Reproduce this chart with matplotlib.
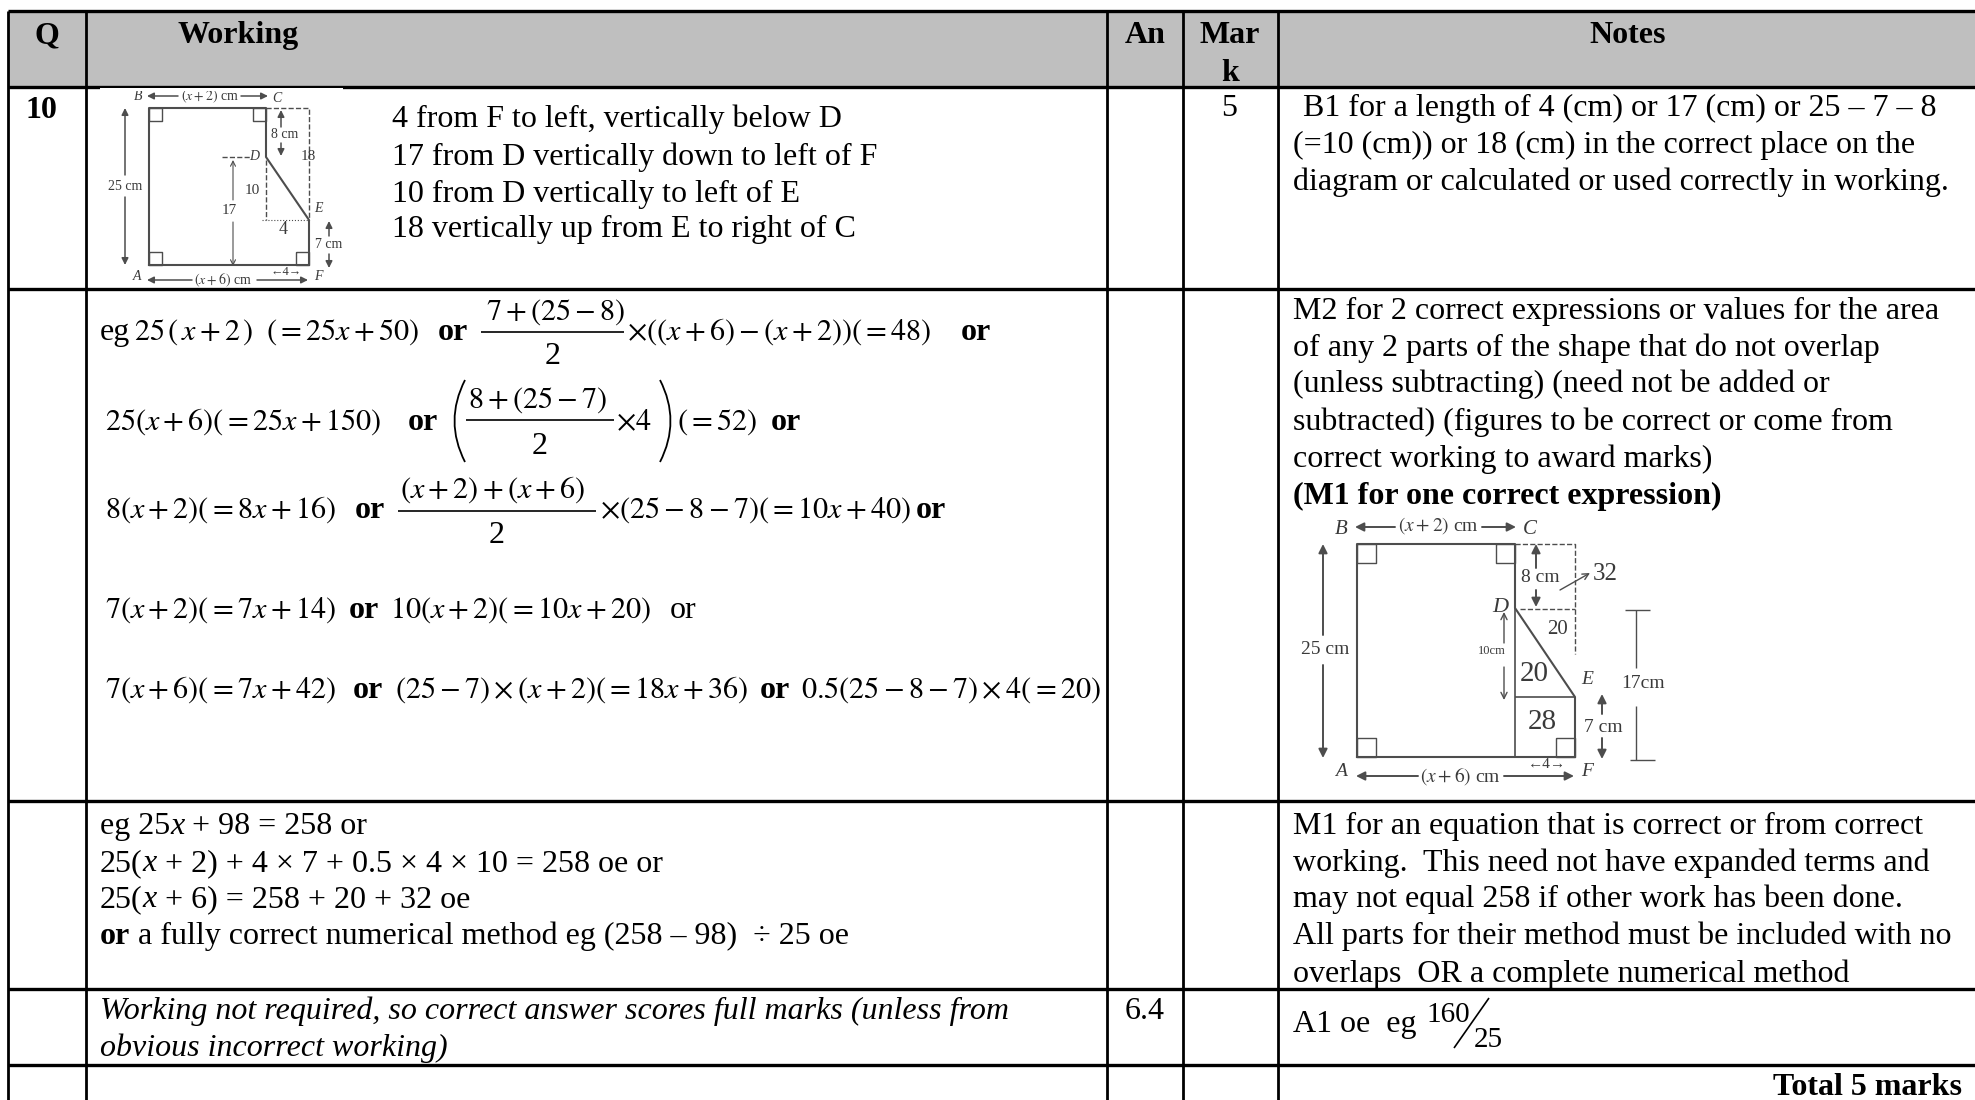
import matplotlib
matplotlib.use("Agg")
import matplotlib.pyplot as plt
from matplotlib.path import Path
from matplotlib.patches import PathPatch

plt.rcParams["font.family"] = ["Liberation Serif", "DejaVu Serif"]
plt.rcParams["mathtext.fontset"] = "stix"

# table grid, in picture pixels
COL_X = [8, 86, 1107, 1183, 1278]
ROW_Y = [11, 87, 289, 801, 989, 1065]
PAGE_W, PAGE_H = 1975, 1100
HEADER_GREY = "#bfbfbf"
DRAW_GREY = "#4d4d4d"
FS = 23
FS_MATH = 21.7

HEADERS = [("Q", 47, "center"), ("Working", 178, "left"), ("An", 1145, "center"),
           ("Mar", 1230, "center"), ("Notes", 1628, "center")]

WORK_LINES = ["4 from F to left, vertically below D",
              "17 from D vertically down to left of F",
              "10 from D vertically to left of E",
              "18 vertically up from E to right of C"]
WORK_Y = [127, 165, 202, 237]

NOTES_1 = ["(=10 (cm)) or 18 (cm) in the correct place on the",
           "diagram or calculated or used correctly in working."]
NOTES_1_Y = [153, 190]

NOTES_2 = ["M2 for 2 correct expressions or values for the area",
           "of any 2 parts of the shape that do not overlap",
           "(unless subtracting) (need not be added or",
           "subtracted) (figures to be correct or come from",
           "correct working to award marks)"]
NOTES_2_Y = [319, 356, 392, 430, 467]

NOTES_3 = ["M1 for an equation that is correct or from correct",
           "working.  This need not have expanded terms and",
           "may not equal 258 if other work has been done.",
           "All parts for their method must be included with no",
           "overlaps  OR a complete numerical method"]
NOTES_3_Y = [834, 871, 907, 944, 982]

# (x, baseline, text, bold)
MATH_BITS = [
    (100, 340, "eg", False), (134, 340, r"$25\,(\,x+2\,)$", False),
    (266, 340, r"$(=25x+50)$", False), (438, 340, "or", True),
    (486, 320, r"$7+(25-8)$", False), (545, 364, "2", False),
    (627, 340, r"$\times((x+6)-(x+2))(=48)$", False), (961, 340, "or", True),
    (105, 430, r"$25(x+6)(=25x+150)$", False), (408, 430, "or", True),
    (468, 408, r"$8+(25-7)$", False), (532, 454, "2", False),
    (616, 430, r"$\times 4$", False), (677, 430, r"$(=52)$", False), (771, 430, "or", True),
    (105, 518, r"$8(x+2)(=8x+16)$", False), (355, 518, "or", True),
    (400, 498, r"$(x+2)+(x+6)$", False), (489, 543, "2", False),
    (600, 518, r"$\times(25-8-7)(=10x+40)$", False), (916, 518, "or", True),
    (105, 618, r"$7(x+2)(=7x+14)$", False), (349, 618, "or", True),
    (390, 618, r"$10(x+2)(=10x+20)$", False), (670, 618, "or", False),
    (105, 698, r"$7(x+6)(=7x+42)$", False), (353, 698, "or", True),
    (395, 698, r"$(25-7)\times(x+2)(=18x+36)$", False), (760, 698, "or", True),
    (801, 698, r"$0.5(25-8-7)\times 4(=20)$", False),
]
FRACTION_BARS = [(481, 624, 332), (466, 614, 420), (398, 596, 511)]
BIG_PARENS = [(465, 444, 465), (660, 681, 660)]
BIG_PAREN_Y = (380, 421, 462)

# outline of the shape, same order in both drawings: A B C D E F
SHAPE_1_X = [149, 149, 266, 266, 309, 309, 149]
SHAPE_1_Y = [265, 108, 108, 157, 220, 265, 265]
SHAPE_2_X = [1357, 1357, 1515, 1515, 1575, 1575, 1357]
SHAPE_2_Y = [757, 544, 544, 608, 697, 757, 757]

# label, x, y, size, italic
DIAG_1_TEXT = [("B", 138, 97, 10, True), (r"$(x+2)$ cm", 210, 96, 10, False), ("C", 277, 99, 10, True),
               ("8 cm", 285, 134, 10, False), ("D", 254, 156, 10, True), ("25 cm", 125, 187, 10, False),
               ("10", 252, 190, 11, False), ("17", 229, 211, 11, False), ("E", 318, 209, 10, True),
               ("4", 283, 229, 13, False), ("7 cm", 329, 245, 10, False), ("A", 137, 277, 10, True),
               (r"$(x+6)$ cm", 223, 280, 10, False), ("←4→", 286, 272, 9, False), ("F", 318, 277, 10, True),
               ("18", 308, 156, 11, False)]
DIAG_2_TEXT = [("B", 1341, 530, 15, True), (r"$(x+2)$ cm", 1438, 526, 14, False), ("C", 1530, 530, 15, True),
               ("8 cm", 1540, 577, 14, False), ("32", 1605, 574, 18, False), ("D", 1500, 607, 16, True),
               ("20", 1558, 630, 15, False), ("25 cm", 1325, 649, 14, False), ("10cm", 1492, 651, 9, False),
               ("20", 1534, 674, 21, False), ("E", 1587, 680, 14, True), ("17cm", 1643, 683, 14, False),
               ("28", 1542, 722, 21, False), ("7 cm", 1603, 727, 14, False), ("A", 1341, 771, 14, True),
               (r"$(x+6)$ cm", 1460, 776, 14, False), ("←4→", 1547, 765, 11, False), ("F", 1587, 771, 14, True)]

# x0, y0, x1, y1, arrow head at the x1, y1 end
DIAG_1_ARROWS = [(178, 96, 147, 96), (241, 96, 268, 96), (125, 175, 125, 108), (125, 197, 125, 265),
                 (281, 127, 281, 110), (281, 143, 281, 156), (329, 236, 329, 221), (329, 254, 329, 268),
                 (192, 280, 147, 280), (257, 280, 308, 280)]
DIAG_1_PEN_ARROWS = [(233, 200, 233, 160), (233, 222, 233, 266)]
DIAG_2_ARROWS = [(1395, 527, 1355, 527), (1482, 527, 1516, 527), (1323, 635, 1323, 544), (1323, 665, 1323, 758),
                 (1536, 568, 1536, 544), (1536, 590, 1536, 607), (1602, 714, 1602, 694), (1602, 738, 1602, 759),
                 (1418, 776, 1356, 776), (1504, 776, 1574, 776)]
DIAG_2_PEN_ARROWS = [(1504, 643, 1504, 612), (1504, 667, 1504, 700), (1560, 590, 1590, 573)]


def line(ax, xs, ys, color="black", lw=1.6, ls="-"):
    ax.plot(xs, ys, color=color, lw=lw, ls=ls, solid_capstyle="butt")


def put(ax, x, y, s, bold=False, italic=False, ha="left", size=FS):
    return ax.text(x, y, s, ha=ha, va="baseline", fontsize=size,
                   fontweight="bold" if bold else "normal",
                   fontstyle="italic" if italic else "normal", color="black")


def put_block(ax, x, ys, lines, **kw):
    for y, s in zip(ys, lines):
        put(ax, x, y, s, **kw)


def put_runs(ax, x, y, runs):
    # runs of (text, style), each one starts where the last one ended
    renderer = ax.figure.canvas.get_renderer()
    for s, style in runs:
        t = put(ax, x, y, s, bold=style == "b", italic=style == "i")
        x = ax.transData.inverted().transform(t.get_window_extent(renderer).p1)[0]


def square(ax, x, y, dx, dy):
    line(ax, [x, x + dx, x + dx, x, x], [y, y, y + dy, y + dy, y], color=DRAW_GREY, lw=1)


def arrows(ax, items, style, scale, lw):
    for x0, y0, x1, y1 in items:
        ax.annotate("", xy=(x1, y1), xytext=(x0, y0),
                    arrowprops=dict(arrowstyle=style, color=DRAW_GREY, lw=lw, shrinkA=0, shrinkB=0,
                                    mutation_scale=scale))


def diagram(ax, sx, sy, texts, tick):
    ax.plot(sx, sy, color=DRAW_GREY, lw=1.5)
    square(ax, sx[1], sy[1], tick, tick)
    square(ax, sx[2] - tick, sy[2], tick, tick)
    square(ax, sx[0], sy[0] - tick, tick, tick)
    square(ax, sx[5] - tick, sy[5] - tick, tick, tick)
    for s, x, y, size, it in texts:
        ax.text(x, y, s, ha="center", va="center", fontsize=size, color="#3a3a3a",
                fontstyle="italic" if it else "normal")


fig = plt.figure(figsize=(PAGE_W / 100, PAGE_H / 100), dpi=100)
ax = fig.add_axes([0, 0, 1, 1])
ax.set_xlim(0, PAGE_W)
ax.set_ylim(PAGE_H, 0)
ax.axis("off")

# header band and grid
ax.add_patch(plt.Rectangle((COL_X[0], ROW_Y[0]), PAGE_W, ROW_Y[1] - ROW_Y[0], fc=HEADER_GREY, ec="none"))
for x in COL_X:
    line(ax, [x, x], [ROW_Y[0], PAGE_H], lw=2)
for y in ROW_Y:
    line(ax, [COL_X[0], PAGE_W], [y, y], lw=2.4)

for s, x, ha in HEADERS:
    put(ax, x, 43, s, bold=True, ha=ha)
put(ax, 1230, 81, "k", bold=True, ha="center")

put(ax, 25, 118, "10", bold=True)
put(ax, 1229, 116, "5", ha="center")
put_block(ax, 392, WORK_Y, WORK_LINES)
put(ax, 1303, 116, "B1 for a length of 4 (cm) or 17 (cm) or 25 – 7 – 8")
put_block(ax, 1293, NOTES_1_Y, NOTES_1)
put_block(ax, 1293, NOTES_2_Y, NOTES_2)
put(ax, 1293, 504, "(M1 for one correct expression)", bold=True)

# long working
for x, y, s, b in MATH_BITS:
    put(ax, x, y, s, bold=b, size=FS if not s.startswith("$") else FS_MATH)
for x0, x1, y in FRACTION_BARS:
    line(ax, [x0, x1], [y, y], lw=1.2)
for xs in BIG_PARENS:
    verts = list(zip(xs, BIG_PAREN_Y))
    ax.add_patch(PathPatch(Path(verts, [Path.MOVETO, Path.CURVE3, Path.CURVE3]),
                           fc="none", ec="black", lw=1.3))

# third row
fig.canvas.draw()
put_runs(ax, 100, 834, [("eg 25", ""), ("x", "i"), (" + 98 = 258 or", "")])
put_runs(ax, 100, 871, [("25(", ""), ("x", "i"), (" + 2) + 4 × 7 + 0.5 × 4 × 10 = 258 oe or", "")])
put_runs(ax, 100, 907, [("25(", ""), ("x", "i"), (" + 6) = 258 + 20 + 32 oe", "")])
put_runs(ax, 100, 944, [("or", "b"), (" a fully correct numerical method eg (258 – 98)  ÷ 25 oe", "")])
put_block(ax, 1293, NOTES_3_Y, NOTES_3)

# fourth row
put(ax, 100, 1019, "Working not required, so correct answer scores full marks (unless from", italic=True)
put(ax, 100, 1056, "obvious incorrect working)", italic=True)
put(ax, 1125, 1019, "6.4")
put(ax, 1293, 1032, "A1 oe  eg")
put(ax, 1426, 1022, "160", size=FS - 2)
line(ax, [1454, 1489], [1048, 998], lw=1.2)
put(ax, 1474, 1047, "25", size=FS - 2)

put(ax, 1962, 1095, "Total 5 marks", bold=True, ha="right")

# small drawing, top left
diagram(ax, SHAPE_1_X, SHAPE_1_Y, DIAG_1_TEXT, 13)
arrows(ax, DIAG_1_ARROWS, "-|>", 10, 1.1)
arrows(ax, DIAG_1_PEN_ARROWS, "->", 9, 0.8)
line(ax, [266, 309, 309], [108, 108, 220], color=DRAW_GREY, lw=1, ls="--")
line(ax, [266, 266], [160, 220], color=DRAW_GREY, lw=1, ls="--")
line(ax, [222, 250], [157, 157], color=DRAW_GREY, lw=1, ls="--")
line(ax, [262, 309], [220, 220], color=DRAW_GREY, lw=0.8, ls=":")
ax.add_patch(plt.Rectangle((100, 88), 243, 2.5, fc="white", ec="none", zorder=3))

# marked up drawing in the notes column
diagram(ax, SHAPE_2_X, SHAPE_2_Y, DIAG_2_TEXT, 19)
arrows(ax, DIAG_2_ARROWS, "-|>", 13, 1.4)
arrows(ax, DIAG_2_PEN_ARROWS, "->", 11, 1)
line(ax, [1515, 1575], [697, 697], color=DRAW_GREY, lw=1.2)
line(ax, [1515, 1515], [608, 757], color=DRAW_GREY, lw=1.2)
line(ax, [1515, 1575, 1575], [544, 544, 654], color=DRAW_GREY, lw=1, ls="--")
line(ax, [1520, 1575], [609, 609], color=DRAW_GREY, lw=1, ls="--")
line(ax, [1636, 1636], [610, 668], color=DRAW_GREY, lw=1)
line(ax, [1636, 1636], [706, 760], color=DRAW_GREY, lw=1)
line(ax, [1625, 1650], [610, 610], color=DRAW_GREY, lw=1)
line(ax, [1630, 1655], [760, 760], color=DRAW_GREY, lw=1)

fig.savefig("out.png", dpi=100)
